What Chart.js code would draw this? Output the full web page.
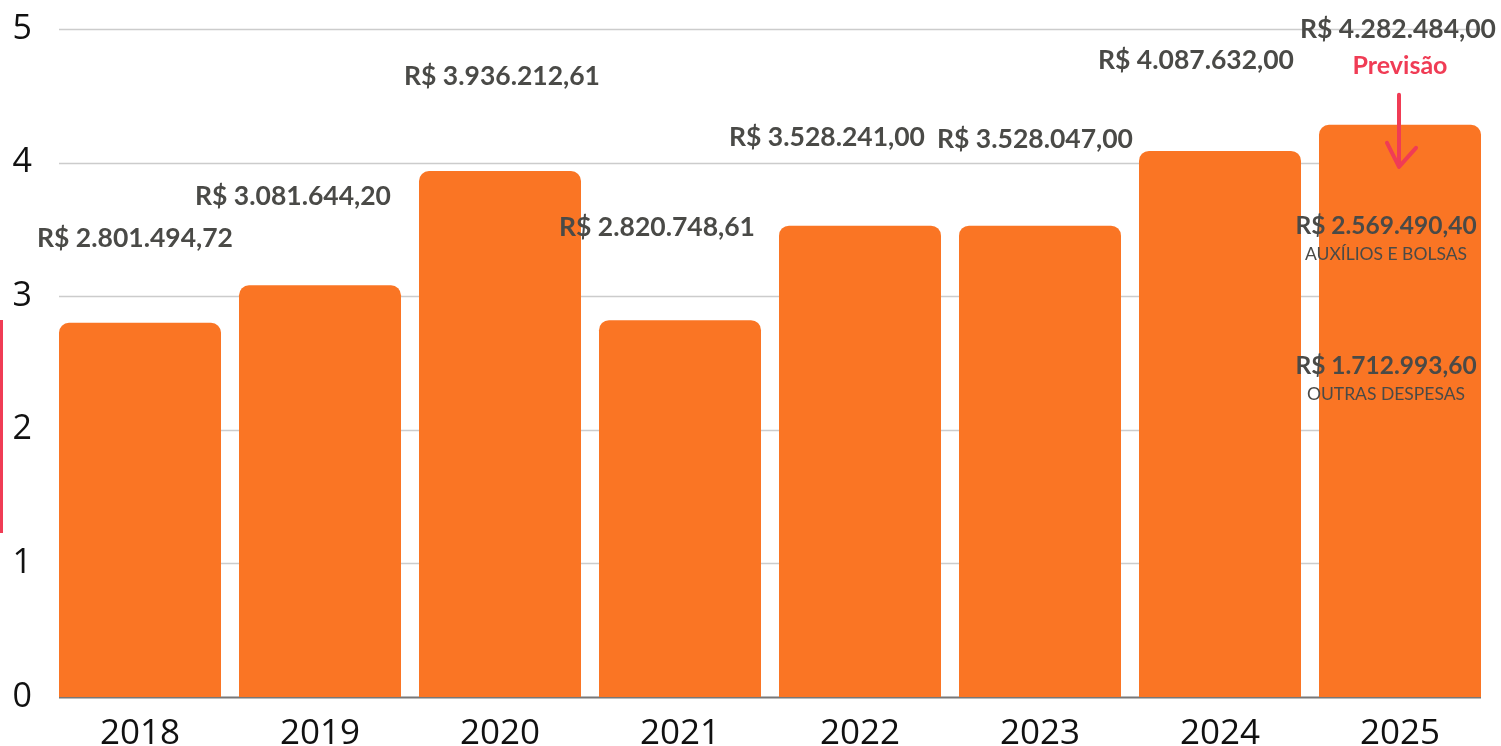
<!DOCTYPE html>
<html lang="pt-BR">
<head>
<meta charset="utf-8">
<script src="https://cdn.jsdelivr.net/npm/chart.js@4.4.1/dist/chart.umd.min.js"></script>
<style>
  html, body { margin: 0; padding: 0; background: #fff; }
  .wrap { width: 1501px; height: 746px; position: relative; }
</style>
</head>
<body>
<div class="wrap"><canvas id="grafico"></canvas></div>
<script>
// Dados (em reais)
const anos = ['2018', '2019', '2020', '2021', '2022', '2023', '2024', '2025'];
const despesas = [2801494.72, 3081644.20, 3936212.61, 2820748.61, 3528241.00, 3528047.00, 4087632.00, 4282484.00];
const detalhe2025Valores = [2569490.40, 1712993.60];
const detalhe2025Nomes = ['AUXÍLIOS E BOLSAS', 'OUTRAS DESPESAS'];
const ticksY = [0, 1, 2, 3, 4, 5];
const textoPrevisao = 'Previsão';

// Deslocamento dos rótulos em relação ao topo de cada barra (px)
const rotuloDx = [-5, -27, 2, -23, -33, -5, -24, -2];
const rotuloDy = [-84, -89, -95, -93, -88, -86, -90, -95];

const LARANJA = '#fa7524';
const VERMELHO = '#f03c55';
const CINZA_TEXTO = '#4a4a47';

// Formata no padrão brasileiro: R$ 1.234.567,89
function formatarReal(v) {
  const [inteiro, dec] = v.toFixed(2).split('.');
  const comPontos = inteiro.replace(/\B(?=(\d{3})+(?!\d))/g, '.');
  return 'R$ ' + comPontos + ',' + dec;
}

// Grade horizontal e linha de base, só na largura das barras
const gradePlugin = {
  id: 'grade',
  beforeDatasetsDraw(chart) {
    const { ctx, scales: { y } } = chart;
    const barras = chart.getDatasetMeta(0).data;
    const x0 = barras[0].x - barras[0].width / 2;
    const ult = barras[barras.length - 1];
    const x1 = ult.x + ult.width / 2;
    ctx.save();
    ticksY.forEach(t => {
      const py = Math.round(y.getPixelForValue(t)) + 0.5;
      ctx.strokeStyle = t === 0 ? '#777777' : '#cccccc';
      ctx.lineWidth = t === 0 ? 2 : 1.5;
      ctx.beginPath();
      ctx.moveTo(x0, py);
      ctx.lineTo(x1, py);
      ctx.stroke();
    });
    ctx.restore();
  }
};

// Rótulos de valor, previsão e detalhamento de 2025
const rotulosPlugin = {
  id: 'rotulos',
  afterDatasetsDraw(chart) {
    const { ctx } = chart;
    const barras = chart.getDatasetMeta(0).data;
    ctx.save();
    ctx.textAlign = 'center';
    ctx.textBaseline = 'middle';
    ctx.fillStyle = CINZA_TEXTO;
    ctx.font = 'bold 26.5px Lato, "Open Sans", sans-serif';
    barras.forEach((b, i) => {
      ctx.fillText(formatarReal(despesas[i]), b.x + rotuloDx[i], b.y + rotuloDy[i]);
    });

    const b = barras[barras.length - 1];
    // Previsão + seta
    ctx.fillStyle = VERMELHO;
    ctx.font = 'bold 25px Lato, "Open Sans", sans-serif';
    ctx.fillText(textoPrevisao, b.x, b.y - 59);

    ctx.strokeStyle = VERMELHO;
    ctx.lineWidth = 4;
    ctx.lineCap = 'round';
    ctx.lineJoin = 'round';
    ctx.beginPath();
    ctx.moveTo(b.x - 1, b.y - 30);
    ctx.lineTo(b.x - 1, b.y + 42);
    ctx.moveTo(b.x - 13, b.y + 18);
    ctx.lineTo(b.x - 1, b.y + 42);
    ctx.lineTo(b.x + 16, b.y + 23);
    ctx.stroke();

    // Detalhamento dentro da barra
    const posY = [101, 241];
    detalhe2025Valores.forEach((v, k) => {
      ctx.fillStyle = CINZA_TEXTO;
      ctx.font = 'bold 24.5px Lato, "Open Sans", sans-serif';
      ctx.fillText(formatarReal(v), b.x - 14, b.y + posY[k]);
      ctx.font = '17.5px Lato, "Open Sans", sans-serif';
      ctx.fillText(detalhe2025Nomes[k], b.x - 14, b.y + posY[k] + 28);
    });

    // traço vermelho na borda esquerda
    ctx.fillStyle = VERMELHO;
    ctx.fillRect(0, 320, 3, 213);
    ctx.restore();
  }
};

new Chart(document.getElementById('grafico'), {
  type: 'bar',
  data: {
    labels: anos,
    datasets: [{
      data: despesas.map(v => v / 1e6),
      backgroundColor: LARANJA,
      borderRadius: { topLeft: 10, topRight: 10, bottomLeft: 0, bottomRight: 0 },
      borderSkipped: 'bottom',
      categoryPercentage: 1,
      barPercentage: 0.9
    }]
  },
  options: {
    responsive: true,
    maintainAspectRatio: false,
    animation: false,
    layout: { padding: { top: 29, right: 11, left: 0, bottom: 0 } },
    plugins: { legend: { display: false }, tooltip: { enabled: false } },
    scales: {
      x: {
        grid: { display: false, drawTicks: false },
        border: { display: false },
        ticks: { color: '#111', font: { family: '"Open Sans", sans-serif', size: 35 }, padding: 16 },
        afterFit(s) { s.height = 49; s.paddingLeft = 0; s.paddingRight = 0; }
      },
      y: {
        min: 0,
        max: 5,
        grid: { display: false, drawTicks: false },
        border: { display: false },
        ticks: {
          stepSize: 1,
          color: '#111',
          font: { family: '"Open Sans", sans-serif', size: 34 },
          padding: 18
        },
        afterFit(s) { s.width = 50; s.paddingTop = 0; s.paddingBottom = 0; }
      }
    }
  },
  plugins: [gradePlugin, rotulosPlugin]
});
</script>
</body>
</html>
